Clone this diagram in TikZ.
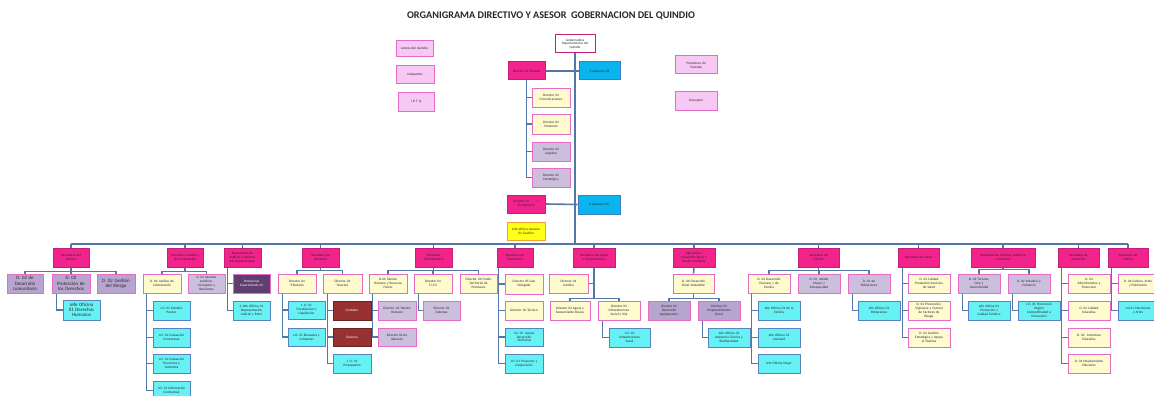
\documentclass[tikz,border=0pt]{standalone}
\usepackage{fontspec}
\setmainfont{Carlito}
\definecolor{secpink}{HTML}{F2248C}
\definecolor{secbord}{HTML}{C21F7A}
\definecolor{lyel}{HTML}{FFFBCF}
\definecolor{pkbord}{HTML}{E46CC4}
\definecolor{lav}{HTML}{CCBFDD}
\definecolor{lavd}{HTML}{B8A5CF}
\definecolor{cyanf}{HTML}{66F2F5}
\definecolor{cyanb}{HTML}{5A82C0}
\definecolor{lpink}{HTML}{F8C8F4}
\definecolor{dpurp}{HTML}{5E3F6E}
\definecolor{dred}{HTML}{983232}
\definecolor{asblue}{HTML}{0AB4EE}
\definecolor{asbord}{HTML}{3C7CC4}
\definecolor{jyel}{HTML}{FFFF1A}
\definecolor{jorange}{HTML}{F0A030}
\definecolor{conn}{HTML}{5577A8}
\tikzset{
  bbox/.style={draw,line width=1pt,inner sep=0pt,align=center,font=\fontsize{3.4}{3.9}\selectfont,text=black!85},
  sec/.style={fill=secpink,draw=secbord},
  yel/.style={fill=lyel,draw=pkbord},
  lavb/.style={fill=lav,draw=pkbord},
  lavdb/.style={fill=lavd,draw=pkbord},
  cya/.style={fill=cyanf,draw=cyanb},
  pkb/.style={fill=lpink,draw=pkbord},
  dpb/.style={fill=dpurp,draw=pkbord,text=white},
  drb/.style={fill=dred,draw=dred!70!black,text=white},
  asb/.style={fill=asblue,draw=asbord},
  jyb/.style={fill=jyel,draw=jorange},
  whb/.style={fill=white,draw=secbord},
  big/.style={font=\fontsize{4.9}{5.3}\selectfont},
  cn/.style={draw=conn,line width=1.6pt},
}
\newcommand\Bx[7]{%
 \pgfmathsetmacro\bxw{#5-#3}\pgfmathsetmacro\bxh{#6-#4}%
 \pgfmathsetmacro\bxcx{(#3+#5)/2}\pgfmathsetmacro\bxcy{(#4+#6)/2}%
 \pgfmathsetmacro\bxtw{#5-#3-1.5}%
 \node[bbox,#1,minimum width=\bxw pt,minimum height=\bxh pt,text width=\bxtw pt] (#2) at (\bxcx,\bxcy) {#7};}
\begin{document}
\begin{tikzpicture}[x=1pt,y=-1pt]
\fill[white] (0,0) rectangle (1154,396);
\useasboundingbox (0,0) rectangle (1154,396);
\node[text=black!85,font=\bfseries\fontsize{10.2}{11}\selectfont] (title) at (551,16) {ORGANIGRAMA DIRECTIVO Y ASESOR\ \ GOBERNACION DEL QUINDIO};
% ---------- top
\Bx{whb}{gob}{555}{35}{595}{53}{Gobernadora\\Departamental del\\Quindío}
\Bx{pkb}{lot}{396}{41}{433}{57}{Lotería del Quindío}
\Bx{pkb}{indep}{396}{66}{434}{84}{Indeportes}
\Bx{pkb}{idtq}{398}{92}{434}{111}{I D T Q}
\Bx{pkb}{prom}{675}{56}{717}{74}{Promotora de\\Vivienda}
\Bx{pkb}{emp}{675}{91}{717}{110}{Empaquín}
\Bx{sec}{dpriv}{508}{62}{545}{80}{Director 04 Privado}
\Bx{asb}{ases2}{579}{62}{620}{80}{3 Asesores 02}
\Bx{yel}{dcom}{532}{88}{570}{107}{Director 04\\Comunicaciones}
\Bx{yel}{dprot}{532}{114}{570}{134}{Director 04\\Protocolo}
\Bx{lavb}{dlog}{532}{142}{570}{161}{Director 02\\Logística}
\Bx{lavb}{destr}{532}{168}{570}{187}{Director 02\\Estratégico}
\Bx{sec}{ddisc}{507}{195}{545}{213}{Director 06\ \ \ \ \ \ \ C\\Disciplinario}
\Bx{asb}{ases1}{578}{195}{620}{214}{6 Asesores 01}
\Bx{jyb}{jog}{507}{222}{545}{240}{Jefe oficina Asesora\\01 Gestión}
\coordinate (busL) at (71,244);
\coordinate (busR) at (1128,244);
\draw[cn] (gob.south) -- (gob.south |- busL);
\draw[cn] (dpriv.east) -- (ases2.west);
\draw[cn] (ddisc.east) -- (ases1.west);
\foreach \c in {dcom,dprot,dlog,destr} \draw[cn] (dpriv.south) |- (\c.west);
\draw[cn] (busL) -- (busR);
% ---------- Interior
\Bx{sec}{sint}{53}{248}{89}{267}{Secretaría del\\Interior}
\Bx{lavdb,big}{ddc}{7}{274}{43}{293}{D. 02 de\\Desarrollo\\comunitario}
\Bx{lavdb,big}{dpd}{52}{274}{90}{293}{D. 02\\Protección de\\los Derechos}
\Bx{lavdb,big}{dgr}{97}{274}{135}{293}{D. 02 Gestión\\del Riesgo}
\Bx{cya,big}{jddhh}{63}{300}{100}{320}{Jefe Oficina\\01 Derechos\\Humanos}
% ---------- Juridica
\Bx{sec}{sjur}{167}{248}{203}{267}{Secretaría Jurídica y\\de Contratación}
\Bx{yel}{djc}{143}{274}{181}{293}{D. 04 Jurídico de\\Contratación}
\Bx{lavb}{daj}{188}{274}{225}{293}{D. 02 Asuntos\\Jurídicos,\\Conceptos y\\Revisiones}
\Bx{cya}{jep}{153}{301}{190}{320}{J.O. 01 Estudios\\Previos}
\Bx{cya}{jec}{153}{328}{190}{347}{J.O. 01 Evaluación\\Contractual}
\Bx{cya}{jef}{153}{354}{190}{373}{J.O. 01 Evaluación\\Financiera y\\Contratos}
\Bx{cya}{jic}{153}{381}{190}{400}{J.O. 01 Información\\Contractual}
% ---------- Representacion
\Bx{sec}{srep}{224}{248}{261}{267}{Representación\\Judicial y Defensa\\del Departamento}
\Bx{dpb}{pesp}{233}{274}{270}{293}{Profesional\\Especializado 04}
\Bx{cya}{jrep}{233}{301}{270}{320}{2 Jefe Oficina 01\\Representación\\Judicial y Extra}
% ---------- Hacienda
\Bx{sec}{shac}{302}{248}{339}{267}{Secretaría de\\Hacienda}
\Bx{yel}{dtrib}{278}{274}{316}{293}{Director 04\\Tributario}
\Bx{yel}{dtes}{323}{274}{362}{293}{Director 04\\Tesorero}
\Bx{cya}{jfl}{288}{301}{325}{319}{J. O. 01\\Fiscalización y\\Liquidación}
\Bx{cya}{jrc}{288}{328}{325}{346}{J.O. 01 Recaudos y\\Cobranzas}
\Bx{drb}{cont}{333}{301}{371}{320}{Contador}
\Bx{drb}{teso}{333}{328}{371}{346}{Tesorero}
\Bx{cya}{jpre}{333}{354}{371}{373}{J. O. 01\\Presupuesto}
% ---------- Administrativa
\Bx{sec}{sadm}{415}{248}{452}{267}{Secretaría\\Administrativa}
\Bx{yel}{dtal}{369}{274}{407}{293}{D.04 Talento\\Humano y Recursos\\Físicos}
\Bx{yel}{dtic}{414}{274}{452}{293}{Director 04\\T.I.C.S}
\Bx{yel}{dfon}{460}{274}{497}{293}{Director 04 Fondo\\Territorial de\\Pensiones}
\Bx{lavb}{dth}{378}{301}{416}{320}{Director 02 Talento\\Humano}
\Bx{lavb}{dalm}{378}{328}{416}{346}{Director 02 de\\Almacén}
\Bx{lavb}{dsis}{423}{301}{460}{320}{Director 02\\Sistemas}
% ---------- Planeacion
\Bx{sec}{splan}{497}{248}{533}{267}{Secretaría de\\Planeación}
\Bx{yel}{dgeo}{505}{274}{543}{294}{Director 05 Geo\\Delegado}
\Bx{yel}{dtec}{505}{301}{543}{320}{Director 04 Técnico}
\Bx{cya}{jadt}{505}{328}{543}{346}{J.O. 01\ \ Apoyo\\Desarrollo\\Territorial}
\Bx{cya}{jpc}{505}{354}{543}{373}{J.O. 01 Proyectos y\\Cooperación}
% ---------- Aguas
\Bx{sec}{sagu}{573}{248}{615}{267}{Secretaría de Aguas\\e Infraestructura}
\Bx{yel}{djur}{549}{274}{588}{293}{Director 04\\Jurídico}
\Bx{yel}{dasb}{550}{301}{590}{320}{Director 04 Aguas y\\Saneamiento Básico}
\Bx{yel}{dinf}{598}{301}{640}{320}{Director 04\\Infraestructura\\Social y Vial}
\Bx{cya}{jis}{609}{328}{650}{347}{J.O. 01\\Infraestructura\\Social}
% ---------- Agricultura
\Bx{sec}{sagr}{673}{248}{715}{267}{Agricultura,\\Desarrollo Rural y\\Medio Ambiente}
\Bx{yel}{ddrs}{673}{274}{714}{293}{D. 04 Desarrollo\\Rural Sostenible}
\Bx{lavdb}{ddag}{648}{301}{690}{320}{Director 02\\Desarrollo\\Agropecuario}
\Bx{lavdb}{demp}{698}{301}{740}{320}{Director 02\\Emprendimiento\\Rural}
\Bx{cya}{jat}{708}{328}{750}{347}{Jefe Oficina 01\\Asistencia Técnica y\\Biodiversidad}
% ---------- Familia
\Bx{sec}{sfam}{798}{248}{839}{267}{Secretaría de\\Familia}
\Bx{yel}{ddhf}{748}{274}{790}{293}{D. 04 Desarrollo\\Humano y de\\Familia}
\Bx{lavb}{dam}{798}{274}{840}{293}{D. 02\ \ Adulto\\Mayor y\\Discapacidad}
\Bx{lavb}{dpob}{848}{274}{890}{293}{D. 02 de\\Poblaciones}
\Bx{cya}{jfam}{758}{301}{800}{320}{Jefe Oficina 01 de la\\Familia}
\Bx{cya}{jjuv}{758}{328}{800}{347}{Jefe Oficina 01\\Juventud}
\Bx{cya}{jmuj}{758}{354}{800}{373}{Jefe Oficina Mujer}
\Bx{cya}{jpob}{858}{301}{900}{320}{Jefe Oficina 01\\Poblaciones}
% ---------- Salud
\Bx{sec}{ssal}{898}{248}{939}{267}{Secretaría de Salud}
\Bx{yel}{dcal}{908}{274}{950}{293}{D. 04 Calidad\\Prestación Servicios\\de Salud}
\Bx{yel}{dprev}{908}{301}{950}{320}{D. 04 Prevención,\\Vigilancia y Control\\de Factores de\\Riesgo}
\Bx{yel}{dges}{908}{328}{950}{347}{D. 04 Gestión\\Estratégica y Apoyo\\al Sistema}
% ---------- Turismo
\Bx{sec}{stur}{971}{248}{1035}{267}{Secretaría de Turismo, Industria\\y Comercio}
\Bx{lavb}{dtur}{958}{274}{1000}{293}{D. 02 Turismo,\\Ocio y\\Asociatividad}
\Bx{lavb}{dind}{1008}{274}{1050}{293}{D. 02 Industria y\\Comercio}
\Bx{cya}{jtur}{968}{301}{1010}{320}{Jefe oficina 01\\Promoción y\\Calidad Turística}
\Bx{cya}{jreg}{1018}{301}{1060}{320}{J.O. 01 Promoción\\Región\\Competitividad e\\Innovación}
% ---------- Educacion
\Bx{sec}{sedu}{1058}{248}{1099}{267}{Secretaría de\\Educación}
\Bx{yel}{dadm}{1068}{274}{1110}{293}{D. 04\\Administrativo y\\Financiero}
\Bx{yel}{dcale}{1068}{301}{1110}{320}{D. 04 Calidad\\Educativa}
\Bx{yel}{dcob}{1068}{328}{1110}{347}{D. 04\ \ Cobertura\\Educativa}
\Bx{yel}{dmej}{1068}{354}{1110}{373}{D. 04 Mejoramiento\\Educativo}
% ---------- Cultura
\Bx{sec}{scul}{1108}{248}{1148}{267}{Secretaría de\\Cultura}
\Bx{yel}{dcul}{1118}{274}{1158}{293}{D. 04 Cultura, Artes\\y Patrimonio}
\Bx{cya}{jpa}{1118}{301}{1158}{320}{J.O.01 Patrimonio\\y Artes}
% ---------- connectors bottom
\foreach \s in {sint,sjur,srep,shac,sadm,splan,sagu,sagr,sfam,ssal,stur,sedu,scul}
  \draw[cn] (\s.north) -- (\s.north |- busL);
\foreach \c in {ddc,dpd,dgr} \draw[cn] (\c.north) -- ++(0,-2) -| (sint.south);
\draw[cn] ([xshift=5pt]dpd.south west) |- (jddhh.west);
\foreach \c in {djc,daj} \draw[cn] (\c.north) -- ++(0,-2) -| (sjur.south);
\foreach \c in {jep,jec,jef,jic} \draw[cn] ([xshift=4pt]djc.south west) |- (\c.west);
\foreach \c in {pesp,jrep} \draw[cn] ([xshift=4pt]srep.south west) |- (\c.west);
\foreach \c in {dtrib,dtes} \draw[cn] (\c.north) -- ++(0,-3) -| (shac.south);
\foreach \c in {jfl,jrc} \draw[cn] ([xshift=5pt]dtrib.south west) |- (\c.west);
\foreach \c in {cont,teso,jpre} \draw[cn] ([xshift=5pt]dtes.south west) |- (\c.west);
\foreach \c in {dtal,dtic,dfon} \draw[cn] (\c.north) -- ++(0,-3) -| (sadm.south);
\foreach \c in {dth,dalm} \draw[cn] ([xshift=4pt]dtal.south west) |- (\c.west);
\draw[cn] ([xshift=5pt]dtic.south west) |- (dsis.west);
\foreach \c in {dgeo,dtec,jadt,jpc} \draw[cn] ([xshift=2pt]splan.south west) |- (\c.west);
\draw[cn] (sagu.south) |- (djur.east);
\foreach \c in {dasb,dinf} \draw[cn] (\c.north) -- ++(0,-2) -| (sagu.south);
\draw[cn] ([xshift=5pt]dinf.south west) |- (jis.west);
\draw[cn] (sagr.south) -- (ddrs.north);
\foreach \c in {ddag,demp} \draw[cn] (\c.north) -- ++(0,-2) -| (ddrs.south);
\draw[cn] ([xshift=5pt]demp.south west) |- (jat.west);
\foreach \c in {ddhf,dam,dpob} \draw[cn] (\c.north) -- ++(0,-3) -| (sfam.south);
\foreach \c in {jfam,jjuv,jmuj} \draw[cn] ([xshift=4pt]ddhf.south west) |- (\c.west);
\draw[cn] ([xshift=5pt]dpob.south west) |- (jpob.west);
\foreach \c in {dcal,dprev,dges} \draw[cn] ([xshift=5pt]ssal.south west) |- (\c.west);
\foreach \c in {dtur,dind} \draw[cn] (\c.north) -- ++(0,-4) -| (stur.south);
\draw[cn] ([xshift=5pt]dtur.south west) |- (jtur.west);
\draw[cn] ([xshift=5pt]dind.south west) |- (jreg.west);
\foreach \c in {dadm,dcale,dcob,dmej} \draw[cn] ([xshift=4pt]sedu.south west) |- (\c.west);
\foreach \c in {dcul,jpa} \draw[cn] ([xshift=4pt]scul.south west) |- (\c.west);
\end{tikzpicture}
\end{document}
